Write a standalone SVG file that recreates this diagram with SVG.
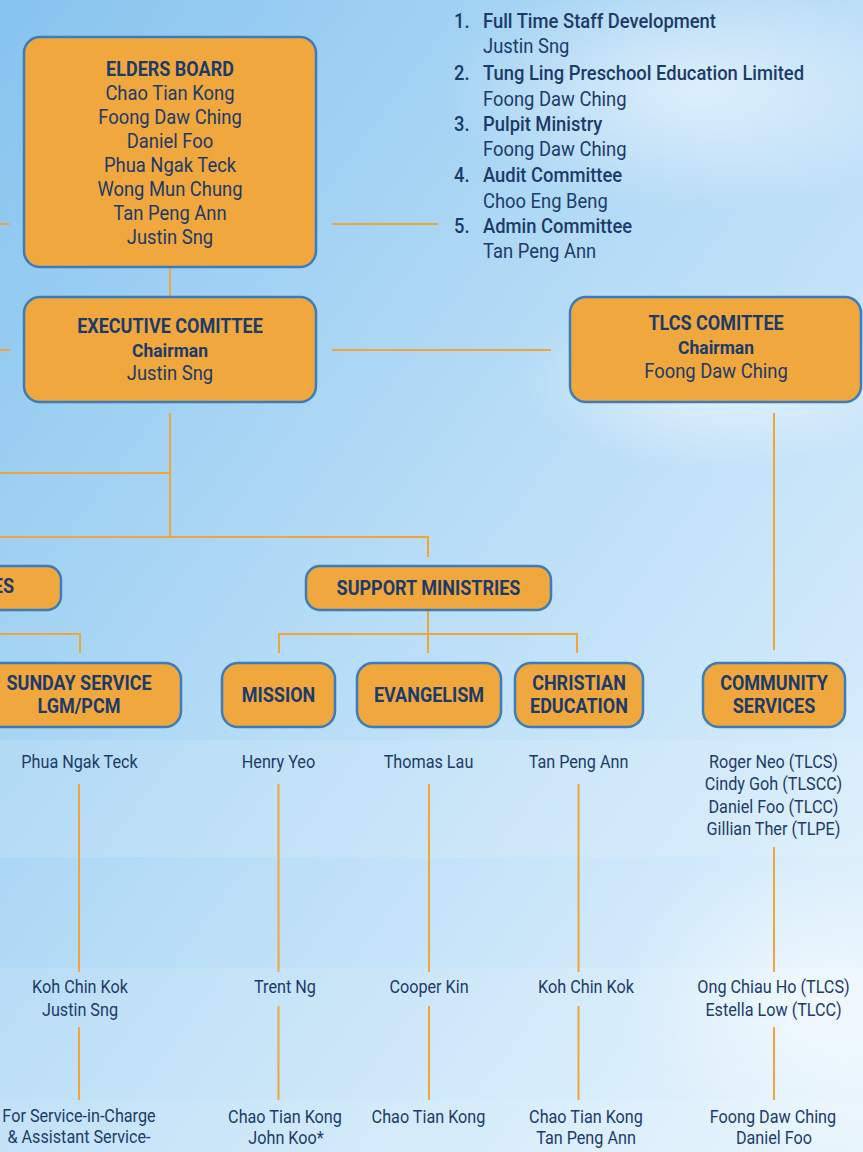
<svg xmlns="http://www.w3.org/2000/svg" width="863" height="1152" viewBox="0 0 863 1152">
<style>
text { font-family: Roboto, "Liberation Sans", sans-serif; fill: #1c3b69; }
.box { fill: #f0a73d; stroke: #3a7cbc; stroke-width: 2.5; }
.c { stroke: #f0a43a; stroke-width: 2; fill: none; }
.m { text-anchor: middle; transform-box: fill-box; transform-origin: center; }
.tb { font-size: 20px; font-weight: 700; transform: scaleX(0.9); }
.tc { font-size: 19px; font-weight: 700; transform: scaleX(0.92); }
.nm { font-size: 20px; transform: scaleX(0.92); }
.rn { font-size: 18px; transform: scaleX(0.9); }
.l { transform-box: fill-box; transform-origin: left center; font-size: 20px; transform: scaleX(0.92); }
.lh { font-weight: 500; }
</style>
<defs>
<linearGradient id="sky" x1="0" y1="0" x2="1" y2="1">
<stop offset="0" stop-color="#86c4ee"/>
<stop offset="0.45" stop-color="#b4dbf6"/>
<stop offset="1" stop-color="#e4f3fd"/>
</linearGradient>
<radialGradient id="cloud">
<stop offset="0" stop-color="#ffffff" stop-opacity="0.55"/>
<stop offset="1" stop-color="#ffffff" stop-opacity="0"/>
</radialGradient>
</defs>
<g id="background">
<rect x="0" y="0" width="863" height="1152" fill="url(#sky)"/>
<ellipse cx="700" cy="90" rx="260" ry="120" fill="url(#cloud)"/>
<ellipse cx="720" cy="380" rx="200" ry="90" fill="url(#cloud)"/>
<ellipse cx="820" cy="1000" rx="200" ry="160" fill="url(#cloud)"/>
<rect x="0" y="740" width="863" height="117" fill="#ffffff" opacity="0.12"/>
<rect x="0" y="968" width="863" height="132" fill="#ffffff" opacity="0.1"/>
<rect x="0" y="1100" width="863" height="52" fill="#ffffff" opacity="0.16"/>
</g>
<g id="connectors">
<path class="c" d="M0 224 H10 M332 224 H438"/>
<path class="c" d="M170 267 V297"/>
<path class="c" d="M0 350 H10 M332 350 H551"/>
<path class="c" d="M170 413 V537 M0 473 H170 M0 537 H428 V557"/>
<path class="c" d="M428 610 V653 M279 653 V634 H577 V653"/>
<path class="c" d="M0 634 H80 V653"/>
<path class="c" d="M774 413 V650"/>
<path class="c" d="M79 784 V972 M278.5 784 V972 M429 784 V972 M578.5 784 V972 M774 847 V972"/>
<path class="c" d="M79 1027 V1100 M278.5 1006 V1100 M429 1006 V1100 M578.5 1006 V1100 M774 1027 V1100"/>
</g>
<g id="elders-board">
<rect class="box" x="24" y="37" width="292" height="230" rx="16"/>
<text class="m tb" x="170" y="76">ELDERS BOARD</text>
<text class="m nm" x="170" y="100">Chao Tian Kong</text>
<text class="m nm" x="170" y="124">Foong Daw Ching</text>
<text class="m nm" x="170" y="148">Daniel Foo</text>
<text class="m nm" x="170" y="172">Phua Ngak Teck</text>
<text class="m nm" x="170" y="196">Wong Mun Chung</text>
<text class="m nm" x="170" y="220">Tan Peng Ann</text>
<text class="m nm" x="170" y="244">Justin Sng</text>
</g>
<g id="committee-list">
<text class="l lh" x="454" y="28">1.</text>
<text class="l lh" x="483" y="28">Full Time Staff Development</text>
<text class="l" x="483" y="53">Justin Sng</text>
<text class="l lh" x="454" y="80">2.</text>
<text class="l lh" x="483" y="80">Tung Ling Preschool Education Limited</text>
<text class="l" x="483" y="106">Foong Daw Ching</text>
<text class="l lh" x="454" y="131">3.</text>
<text class="l lh" x="483" y="131">Pulpit Ministry</text>
<text class="l" x="483" y="156">Foong Daw Ching</text>
<text class="l lh" x="454" y="182">4.</text>
<text class="l lh" x="483" y="182">Audit Committee</text>
<text class="l" x="483" y="208">Choo Eng Beng</text>
<text class="l lh" x="454" y="233">5.</text>
<text class="l lh" x="483" y="233">Admin Committee</text>
<text class="l" x="483" y="258">Tan Peng Ann</text>
</g>
<g id="executive-committee">
<rect class="box" x="24" y="297" width="292" height="105" rx="16"/>
<text class="m tb" x="170" y="333">EXECUTIVE COMITTEE</text>
<text class="m tc" x="170" y="357">Chairman</text>
<text class="m nm" x="170" y="380">Justin Sng</text>
</g>
<g id="tlcs-committee">
<rect class="box" x="570" y="297" width="291" height="105" rx="16"/>
<text class="m tb" x="716" y="330">TLCS COMITTEE</text>
<text class="m tc" x="716" y="354">Chairman</text>
<text class="m nm" x="716" y="378">Foong Daw Ching</text>
</g>
<g id="left-ministries">
<rect class="box" x="-200" y="566" width="261" height="44" rx="14"/>
<text class="tb" x="14" y="593" style="text-anchor:end;transform-box:fill-box;transform-origin:right center">ES</text>
</g>
<g id="support-ministries">
<rect class="box" x="306" y="566" width="245" height="44" rx="14"/>
<text class="m tb" x="428.5" y="595">SUPPORT MINISTRIES</text>
</g>
<g id="sunday-service">
<rect class="box" x="-23" y="663" width="204" height="64" rx="16"/>
<text class="m tb" x="79" y="690">SUNDAY SERVICE</text>
<text class="m tb" x="79" y="713">LGM/PCM</text>
</g>
<g id="mission">
<rect class="box" x="222" y="663" width="113" height="64" rx="16"/>
<text class="m tb" x="278.5" y="702">MISSION</text>
</g>
<g id="evangelism">
<rect class="box" x="357" y="663" width="144" height="64" rx="16"/>
<text class="m tb" x="429" y="702">EVANGELISM</text>
</g>
<g id="christian-education">
<rect class="box" x="515" y="663" width="128" height="64" rx="16"/>
<text class="m tb" x="579" y="690">CHRISTIAN</text>
<text class="m tb" x="579" y="713">EDUCATION</text>
</g>
<g id="community-services">
<rect class="box" x="703" y="663" width="142" height="64" rx="16"/>
<text class="m tb" x="774" y="690">COMMUNITY</text>
<text class="m tb" x="774" y="713">SERVICES</text>
</g>
<g id="row1">
<text class="m rn" x="79.5" y="768">Phua Ngak Teck</text>
<text class="m rn" x="278.5" y="768">Henry Yeo</text>
<text class="m rn" x="428.5" y="768">Thomas Lau</text>
<text class="m rn" x="578.5" y="768">Tan Peng Ann</text>
<text class="m rn" x="773.5" y="768">Roger Neo (TLCS)</text>
<text class="m rn" x="773.5" y="790">Cindy Goh (TLSCC)</text>
<text class="m rn" x="773.5" y="813">Daniel Foo (TLCC)</text>
<text class="m rn" x="773.5" y="835">Gillian Ther (TLPE)</text>
</g>
<g id="row2">
<text class="m rn" x="80" y="993">Koh Chin Kok</text>
<text class="m rn" x="80" y="1016">Justin Sng</text>
<text class="m rn" x="285" y="993">Trent Ng</text>
<text class="m rn" x="429" y="993">Cooper Kin</text>
<text class="m rn" x="586" y="993">Koh Chin Kok</text>
<text class="m rn" x="773.5" y="993">Ong Chiau Ho (TLCS)</text>
<text class="m rn" x="773.5" y="1016">Estella Low (TLCC)</text>
</g>
<g id="row3">
<text class="m rn" x="79" y="1122">For Service-in-Charge</text>
<text class="m rn" x="79" y="1143">&amp; Assistant Service-</text>
<text class="m rn" x="285" y="1123">Chao Tian Kong</text>
<text class="m rn" x="286" y="1144">John Koo*</text>
<text class="m rn" x="428.5" y="1123">Chao Tian Kong</text>
<text class="m rn" x="586" y="1123">Chao Tian Kong</text>
<text class="m rn" x="586" y="1144">Tan Peng Ann</text>
<text class="m rn" x="773" y="1123">Foong Daw Ching</text>
<text class="m rn" x="774" y="1144">Daniel Foo</text>
</g>
</svg>
